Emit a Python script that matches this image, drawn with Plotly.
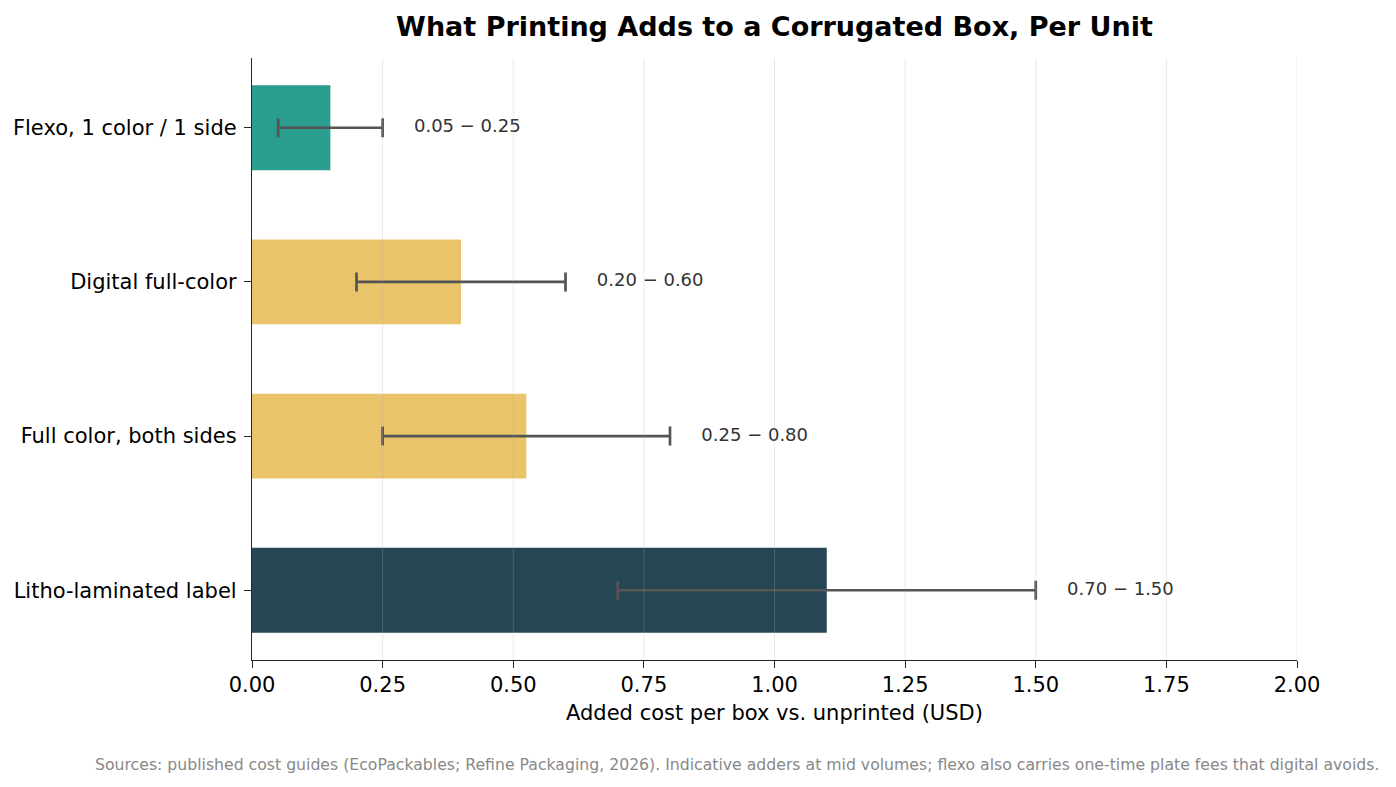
import plotly.graph_objects as go

# data, top to bottom
methods = ["Flexo, 1 color / 1 side", "Digital full-color", "Full color, both sides", "Litho-laminated label"]
low = [0.05, 0.20, 0.25, 0.70]
high = [0.25, 0.60, 0.80, 1.50]
colors = ["#2a9d8f", "#e9c46a", "#e9c46a", "#264653"]
x_ticks = [0.0, 0.25, 0.5, 0.75, 1.0, 1.25, 1.5, 1.75, 2.0]

mid = [(lo + hi) / 2 for lo, hi in zip(low, high)]
labels = [f"{lo:.2f} \u2212 {hi:.2f}" for lo, hi in zip(low, high)]
FONT = "DejaVu Sans"
AXIS = "#262626"

fig = go.Figure()
fig.add_trace(go.Bar(
    y=methods, x=mid, orientation="h", width=0.55,
    marker=dict(color=colors, line=dict(width=0)),
    showlegend=False, hoverinfo="skip",
))
fig.add_trace(go.Scatter(
    y=methods, x=mid, mode="markers",
    marker=dict(size=1, opacity=0),
    error_x=dict(type="data", symmetric=False,
                 array=[hi - m for hi, m in zip(high, mid)],
                 arrayminus=[m - lo for lo, m in zip(low, mid)],
                 color="#555555", thickness=2.7, width=9.5),
    showlegend=False,
    hovertemplate="%{y}<extra></extra>",
))
fig.add_trace(go.Scatter(
    y=methods, x=[h + 0.06 for h in high], mode="text",
    text=labels, textposition="middle right",
    textfont=dict(family=FONT, size=18, color="#333333"),
    showlegend=False, hoverinfo="skip",
))

# grid drawn on top of the bars, like the original
for t in x_ticks[1:]:
    fig.add_vline(x=t, line=dict(color="rgba(176,176,176,0.28)", width=1), layer="above")

fig.update_layout(
    width=1388, height=779,
    paper_bgcolor="white", plot_bgcolor="white",
    font=dict(family=FONT, size=21, color="#000000"),
    title=dict(text="<b>What Printing Adds to a Corrugated Box, Per Unit</b>",
               x=0.5, xref="paper", xanchor="center",
               y=1 - 19 / 779, yref="container", yanchor="middle",
               font=dict(family=FONT, size=27, color="#000000")),
    margin=dict(l=244, r=99, t=50, b=127),
)
fig.update_xaxes(
    range=[0, 2.0], tickvals=x_ticks, tickformat=".2f",
    showgrid=False, zeroline=False, automargin=False,
    showline=True, linecolor=AXIS, linewidth=1.3,
    ticks="outside", ticklen=7, tickcolor=AXIS, tickwidth=1.3,
    tickfont=dict(family=FONT, size=21), ticklabelstandoff=-1,
    title=dict(text="Added cost per box vs. unprinted (USD)", font=dict(family=FONT, size=21), standoff=8),
)
fig.update_yaxes(
    categoryorder="array", categoryarray=methods[::-1],
    range=[-0.4525, 3.4525],
    showgrid=False, zeroline=False, automargin=False,
    showline=True, linecolor=AXIS, linewidth=1.3,
    ticks="outside", ticklen=7, tickcolor=AXIS, tickwidth=1.3,
    tickfont=dict(family=FONT, size=21), ticklabelstandoff=3,
)
fig.add_annotation(
    text="Sources: published cost guides (EcoPackables; Refine Packaging, 2026). Indicative adders at mid volumes; flexo also carries one-time plate fees that digital avoids.",
    xref="paper", yref="paper", x=1.0804, y=-0.1744, xanchor="right", yanchor="middle",
    showarrow=False, font=dict(family=FONT, size=15.7, color="#888888"),
)

fig.write_html("out.html")
